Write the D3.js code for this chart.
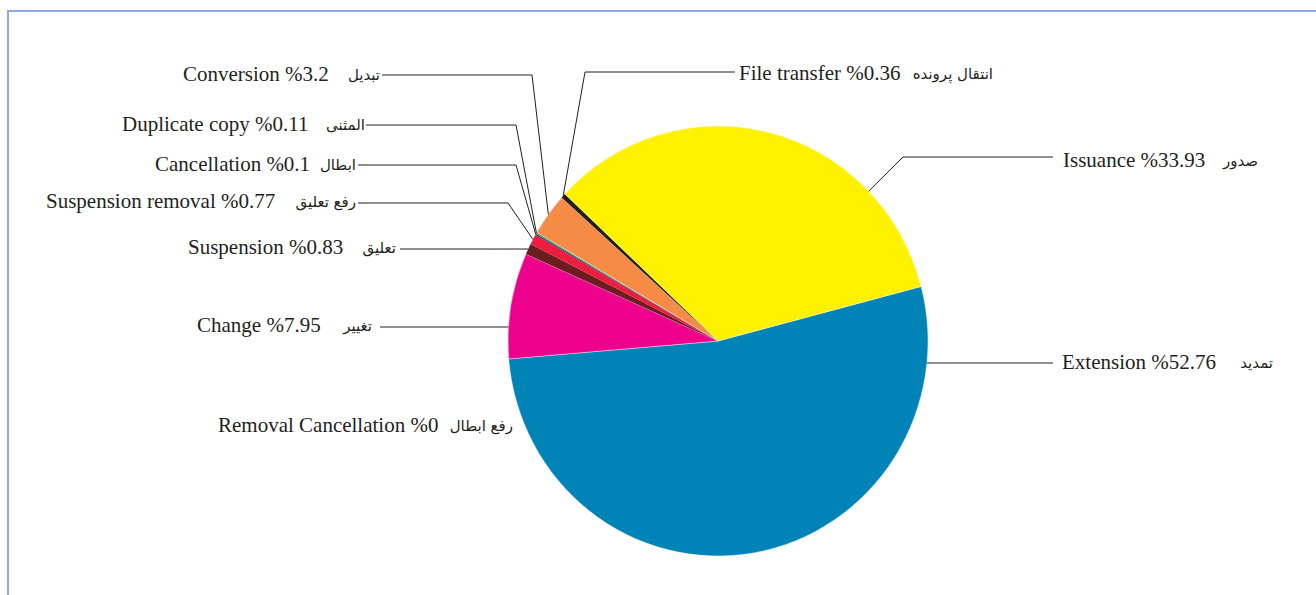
<!DOCTYPE html>
<html>
<head>
<meta charset="utf-8">
<script src="https://cdn.jsdelivr.net/npm/d3@7"></script>
<style>
  body { margin: 0; background: #fff; }
  svg { display: block; }
</style>
</head>
<body>
<div id="chart"></div>
<script>

// slice order, clockwise from the Extension edge on the right
var names_en = ["Extension", "Removal Cancellation", "Change", "Suspension", "Suspension removal",
                "Cancellation", "Duplicate copy", "Conversion", "File transfer", "Issuance"];
var names_fa = ["تمدید", "رفع ابطال", "تغییر", "تعلیق", "رفع تعلیق",
                "ابطال", "المثنی", "تبدیل", "انتقال پرونده", "صدور"];
var shares = [52.76, 0, 7.95, 0.83, 0.77, 0.1, 0.11, 3.2, 0.36, 33.93];
var slice_colors = ["#0084b8", "#0084b8", "#ec008c", "#6b1d20", "#ee1c3d",
                    "#2e3192", "#3bab49", "#f68b45", "#231f20", "#fff100"];

// label layout: english start x, baseline, arabic right x, leader y, leader x (free end), elbow x, mode
var label_layout = [
  {ex: 1062, by: 369, ar: 1273, ly: 363, lx: 1053, elbow: null, mode: "flat", side: "right"},
  {ex: 218,  by: 432, ar: 513,  ly: null},
  {ex: 197,  by: 332, ar: 372,  ly: 327, lx: 380, elbow: null, mode: "flat", side: "left"},
  {ex: 188,  by: 254, ar: 396,  ly: 249, lx: 400, elbow: null, mode: "mid", side: "left"},
  {ex: 46,   by: 208, ar: 356,  ly: 203, lx: 358, elbow: 508, mode: "mid", side: "left"},
  {ex: 155,  by: 171, ar: 356,  ly: 165, lx: 358, elbow: 516, mode: "mid", side: "left"},
  {ex: 122,  by: 131, ar: 365,  ly: 125, lx: 366, elbow: 516, mode: "mid", side: "left"},
  {ex: 183,  by: 81,  ar: 380,  ly: 75,  lx: 382, elbow: 532, mode: "mid", side: "left"},
  {ex: 739,  by: 80,  ar: 993,  ly: 72,  lx: 735, elbow: 585, mode: "mid", side: "right"},
  {ex: 1063, by: 167, ar: 1258, ly: 157, lx: 1053, elbow: 903, mode: "near", side: "right"}
];

var width = 1316, height = 595;
var cx = 718, cy = 341, r = 210, ry = 215;
var start_deg = 75.3;

var svg = d3.select("#chart").append("svg")
    .attr("width", width)
    .attr("height", height);

// frame
svg.append("line")
    .attr("x1", 8).attr("y1", 10).attr("x2", 8).attr("y2", height)
    .attr("stroke", "#8eaadb").attr("stroke-width", 2);
svg.append("line")
    .attr("x1", 7).attr("y1", 11).attr("x2", width).attr("y2", 11)
    .attr("stroke", "#8eaadb").attr("stroke-width", 2);

var data = shares.map(function(v, i) {
  return {en: names_en[i], fa: names_fa[i], value: v, color: slice_colors[i], lay: label_layout[i]};
});

var pie = d3.pie()
    .sort(null)
    .value(function(d) { return d.value; })
    .startAngle(start_deg * Math.PI / 180)
    .endAngle(start_deg * Math.PI / 180 + 2 * Math.PI);

var arcs = pie(data);

var arc = d3.arc().innerRadius(0).outerRadius(r);

var g = svg.append("g")
    .attr("transform", "translate(" + cx + "," + cy + ") scale(1," + (ry / r) + ")");

g.selectAll("path")
    .data(arcs)
  .enter().append("path")
    .attr("d", arc)
    .attr("fill", function(d) { return d.data.color; })
    .attr("stroke", "#ffffff")
    .attr("stroke-width", function(d) { return d.data.value > 1 ? 0.4 : 0; });

function edge_point(a) {
  return [cx + r * Math.sin(a), cy - ry * Math.cos(a)];
}

// leader lines
var leaders = svg.append("g");
arcs.forEach(function(d) {
  var L = d.data.lay;
  if (L.ly === null) return;
  var pts;
  if (L.mode == "flat") {
    var t = (L.ly - cy) / ry;
    var dx = r * Math.sqrt(1 - t * t);
    var xe = L.side == "left" ? cx - dx : cx + dx;
    pts = [[L.lx, L.ly], [xe, L.ly]];
  } else {
    var a;
    var ex = L.elbow === null ? L.lx : L.elbow;
    if (L.mode == "mid") {
      a = (d.startAngle + d.endAngle) / 2;
    } else {
      // closest angle inside the slice toward the elbow
      var want = Math.atan2(ex - cx, -(L.ly - cy) * r / ry);
      var s = d.startAngle, e = d.endAngle;
      while (want < s) want += 2 * Math.PI;
      a = Math.min(Math.max(want, s), e);
    }
    var p = edge_point(a);
    pts = [[L.lx, L.ly]];
    if (L.elbow !== null) pts.push([L.elbow, L.ly]);
    pts.push(p);
  }
  leaders.append("path")
      .attr("d", d3.line()(pts))
      .attr("fill", "none")
      .attr("stroke", "#231f20")
      .attr("stroke-width", 1);
});

// labels
var labels = svg.append("g");
data.forEach(function(d) {
  var L = d.lay;
  labels.append("text")
      .attr("x", L.ex)
      .attr("y", L.by)
      .attr("font-family", "'Liberation Serif', 'Times New Roman', serif")
      .attr("font-size", "21px")
      .attr("fill", "#231f20")
      .text(d.en + " %" + d.value);
  labels.append("text")
      .attr("x", L.ar)
      .attr("y", L.by - 1)
      .attr("text-anchor", "end")
      .attr("font-family", "'DejaVu Sans', sans-serif")
      .attr("font-size", "15px")
      .attr("fill", "#231f20")
      .text(d.fa);
});

</script>
</body>
</html>
